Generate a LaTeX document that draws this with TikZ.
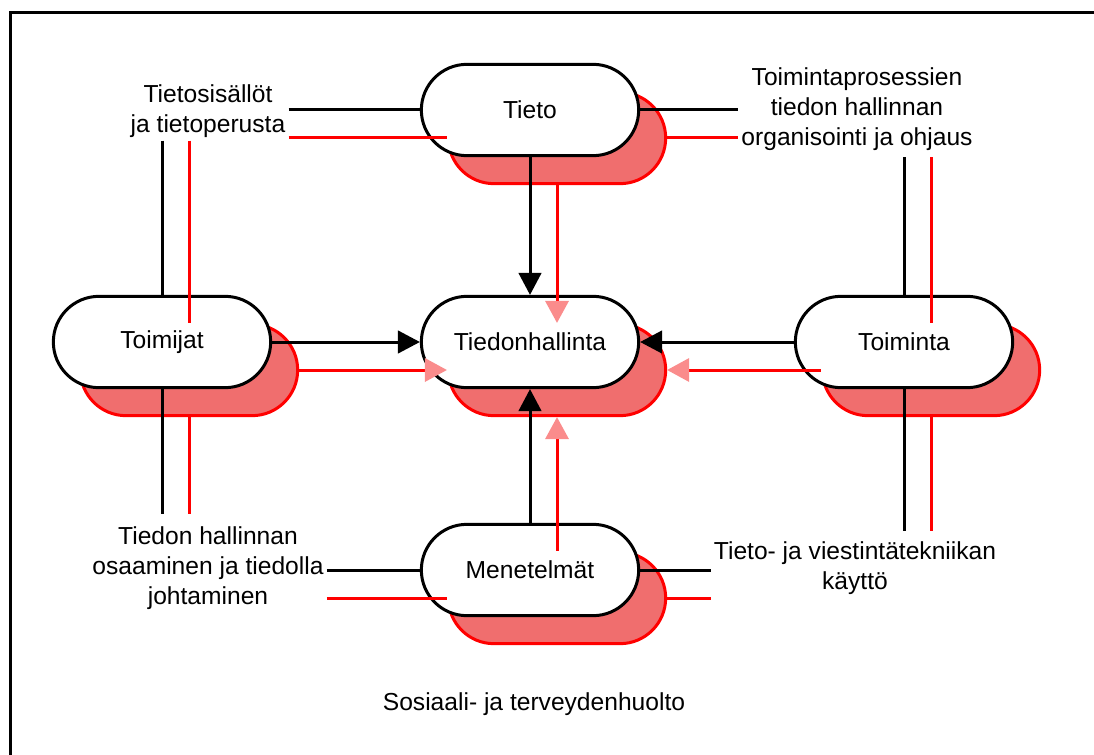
\documentclass[tikz,border=0pt]{standalone}
\usepackage{fontspec}
\setmainfont{Liberation Sans}
\usetikzlibrary{shapes.misc,arrows.meta}
\definecolor{shadowfill}{RGB}{240,110,110}
\definecolor{pinkA}{RGB}{250,140,140}
\definecolor{redL}{RGB}{255,0,0}
\tikzset{
  txt/.style={font=\fontsize{18.45}{22.5}\selectfont},
  box/.style={rounded rectangle, minimum width=163pt, minimum height=68.5pt, inner sep=0pt,
    line width=2.25pt, draw=black, fill=white, txt},
  shadowbox/.style={rounded rectangle, minimum width=163pt, minimum height=68.5pt, inner sep=0pt,
    line width=2.25pt, draw=redL, fill=shadowfill},
  lbl/.style={txt, align=center, inner xsep=2.25pt},
  blk/.style={line width=2.25pt, draw=black},
  rd/.style={line width=2.25pt, draw=redL},
  bkhead/.style={-{Triangle[length=16.5pt,width=17.5pt,line width=0pt]}},
  pkhead/.style={-{Triangle[length=16.5pt,width=18pt,line width=0pt,color=pinkA,fill=pinkA]}},
}
\begin{document}
\begin{tikzpicture}[x=0.75pt,y=-0.75pt]
\useasboundingbox (0,0) rectangle (1094,755);
% frame
\draw[line width=2.6pt] (10.7,12.5) rectangle (1130,790);
% shadows
\node[shadowbox] (tietoS) at (557,138) {};
\node[shadowbox] (tiedonS) at (557,370) {};
\node[shadowbox] (toimijatS) at (189,370) {};
\node[shadowbox] (toimintaS) at (931,370) {};
\node[shadowbox] (menetelmatS) at (557,598) {};
% main boxes
\node[box] (tieto) at (530,110) {Tieto};
\node[box] (tiedon) at (530,342) {Tiedonhallinta};
\node[box] (toimijat) at (162,342) {Toimijat};
\node[box] (toiminta) at (904,342) {Toiminta};
\node[box] (menetelmat) at (530,570) {Menetelmät};
% labels
\node[lbl, inner ysep=2.25pt] (lblTL) at (208,111) {Tietosisällöt\\ja tietoperusta};
\node[lbl, inner ysep=5pt] (lblTR) at (857,109) {Toimintaprosessien\\tiedon hallinnan\\organisointi ja ohjaus};
\node[lbl, inner ysep=9pt] (lblBL) at (208,568) {Tiedon hallinnan\\osaaminen ja tiedolla\\johtaminen};
\node[lbl, inner ysep=7.5pt] (lblBR) at (855,568) {Tieto- ja viestintätekniikan\\käyttö};
\node[txt, anchor=base] (bottom) at (534,710) {Sosiaali- ja terveydenhuolto};
% black connectors
\draw[blk] (lblTL.east |- tieto.west) -- (tieto.west);
\draw[blk] (toimijat.north |- lblTL.south) -- (toimijat.north);
\draw[blk] (tieto.east) -- (lblTR.west |- tieto.east);
\draw[blk] (toiminta.north |- lblTR.south) -- (toiminta.north);
\draw[blk] (toimijat.south) -- (toimijat.south |- lblBL.north);
\draw[blk] (lblBL.east |- menetelmat.west) -- (menetelmat.west);
\draw[blk] (toiminta.south) -- (toiminta.south |- lblBR.north);
\draw[blk] (menetelmat.east) -- (lblBR.west |- menetelmat.east);
\draw[blk,bkhead] (tieto.south) -- (tiedon.north);
\draw[blk,bkhead] (toimijat.east) -- (tiedon.west);
\draw[blk,bkhead] (toiminta.west) -- (tiedon.east);
\draw[blk,bkhead] (menetelmat.north) -- (tiedon.south);
% red connectors
\draw[rd] (lblTL.east |- tietoS.west) -- (tietoS.west);
\draw[rd] (toimijatS.north |- lblTL.south) -- (toimijatS.north);
\draw[rd] (tietoS.east) -- (lblTR.west |- tietoS.east);
\draw[rd] (toimintaS.north |- lblTR.south) -- (toimintaS.north);
\draw[rd] (toimijatS.south) -- (toimijatS.south |- lblBL.north);
\draw[rd] (lblBL.east |- menetelmatS.west) -- (menetelmatS.west);
\draw[rd] (toimintaS.south) -- (toimintaS.south |- lblBR.north);
\draw[rd] (menetelmatS.east) -- (lblBR.west |- menetelmatS.east);
\draw[rd,pkhead] (tietoS.south) -- (tiedonS.north);
\draw[rd,pkhead] (toimijatS.east) -- (tiedonS.west);
\draw[rd,pkhead] (toimintaS.west) -- (tiedonS.east);
\draw[rd,pkhead] (menetelmatS.north) -- (tiedonS.south);
\end{tikzpicture}
\end{document}
